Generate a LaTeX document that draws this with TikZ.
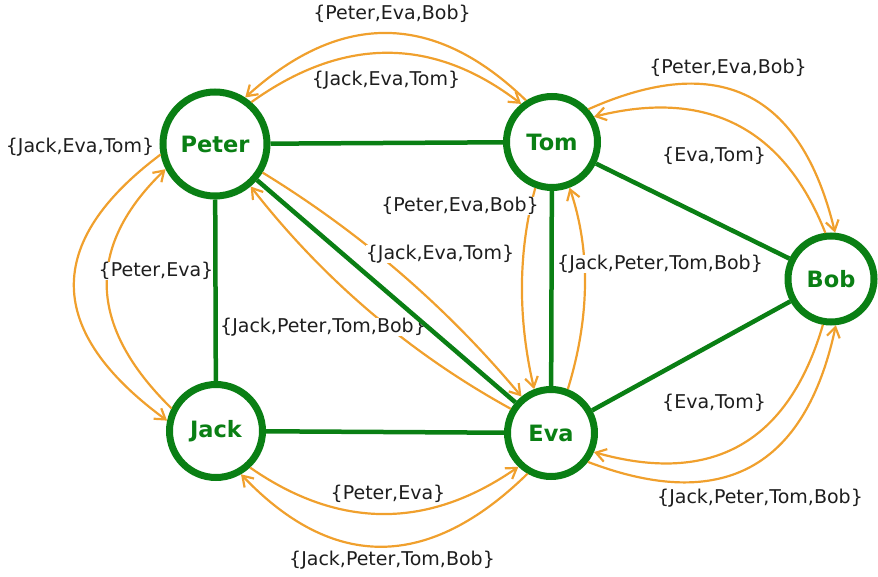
\documentclass[tikz,border=0pt]{standalone}
\usepackage{fontspec}
\setmainfont{DejaVu Sans}
\usetikzlibrary{arrows.meta,calc}
\definecolor{gr}{RGB}{10,127,20}
\definecolor{orng}{RGB}{240,160,45}
\definecolor{txt}{RGB}{30,30,30}
\newcommand{\qarc}[3]{\draw[flow] (#1) .. controls ($(#1)!0.6667!(#2)$) and ($(#3)!0.6667!(#2)$) .. (#3);}
\begin{document}
\begin{tikzpicture}[x=1pt,y=-1pt,
  vtx/.style={circle,draw=gr,line width=7pt,fill=white,inner sep=0pt,text=gr,font=\fontsize{22.5}{26}\selectfont\bfseries},
  link/.style={draw=gr,line width=4.5pt},
  flow/.style={draw=orng,line width=2.2pt,-{Straight Barb[length=10pt,width=13pt]}},
  lbl/.style={fill=white,inner sep=0pt,text=txt,font=\fontsize{19}{22}\selectfont}]
\useasboundingbox (0,0) rectangle (878,577);
% vertices
\node[vtx,minimum size=104pt] (Peter) at (215,144) {Peter};
\node[vtx,minimum size=91pt] (Tom) at (552,142) {Tom};
\node[vtx,minimum size=86pt] (Bob) at (831,279) {Bob};
\node[vtx,minimum size=93pt] (Jack) at (216,431) {Jack};
\node[vtx,minimum size=87pt] (Eva) at (551,433) {Eva};
% control points
\coordinate (q1) at (389,-32.5);
\coordinate (q2) at (389.5,3);
\coordinate (q3) at (784,22);
\coordinate (q4) at (762.6,74.6);
\coordinate (q5) at (-15.5,286.5);
\coordinate (q6) at (45.5,285);
\coordinate (q7) at (409.9,262.8);
\coordinate (q8) at (359.1,325.4);
\coordinate (q9) at (509.4,282.5);
\coordinate (q10) at (601,281);
\coordinate (q11) at (770.9,502);
\coordinate (q12) at (790,539);
\coordinate (q13) at (383.5,560.5);
\coordinate (q14) at (379,619);
% orange arcs
\qarc{Tom.122}{q1}{Peter.57}
\qarc{Peter.49}{q2}{Tom.129}
\qarc{Tom.42}{q3}{Bob.85}
\qarc{Bob.97}{q4}{Tom.31}
\qarc{Peter.191}{q5}{Jack.168}
\qarc{Jack.153}{q6}{Peter.207}
\qarc{Peter.329}{q7}{Eva.129}
\qarc{Eva.149}{q8}{Peter.310}
\qarc{Tom.250}{q9}{Eva.111}
\qarc{Eva.69}{q10}{Tom.291}
\qarc{Bob.260}{q11}{Eva.336}
\qarc{Eva.322}{q12}{Bob.276}
\qarc{Jack.313}{q13}{Eva.226}
\qarc{Eva.240}{q14}{Jack.300}
% labels
\node[lbl] (l1) at (392,14) {\{Peter,Eva,Bob\}};
\node[lbl] (l2) at (386,80) {\{Jack,Eva,Tom\}};
\node[lbl] (l3) at (728,68) {\{Peter,Eva,Bob\}};
\node[lbl] (l4) at (714,156) {\{Eva,Tom\}};
\node[lbl] (l5) at (80,147) {\{Jack,Eva,Tom\}};
\node[lbl] (l6) at (156,271) {\{Peter,Eva\}};
\node[lbl] (l7) at (323,327) {\{Jack,Peter,Tom,Bob\}};
\node[lbl] (l8) at (440,254) {\{Jack,Eva,Tom\}};
\node[lbl] (l9) at (460,206) {\{Peter,Eva,Bob\}};
\node[lbl] (l10) at (660,264) {\{Jack,Peter,Tom,Bob\}};
\node[lbl] (l11) at (714,403) {\{Eva,Tom\}};
\node[lbl] (l12) at (760,498) {\{Jack,Peter,Tom,Bob\}};
\node[lbl] (l13) at (388,494) {\{Peter,Eva\}};
\node[lbl] (l14) at (392,560) {\{Jack,Peter,Tom,Bob\}};
% green links (on top of label backgrounds)
\draw[link] (Peter) -- (Tom);
\draw[link] (Peter) -- (Jack);
\draw[link] (Peter) -- (Eva);
\draw[link] (Tom) -- (Eva);
\draw[link] (Tom) -- (Bob);
\draw[link] (Jack) -- (Eva);
\draw[link] (Eva) -- (Bob);
\end{tikzpicture}
\end{document}
